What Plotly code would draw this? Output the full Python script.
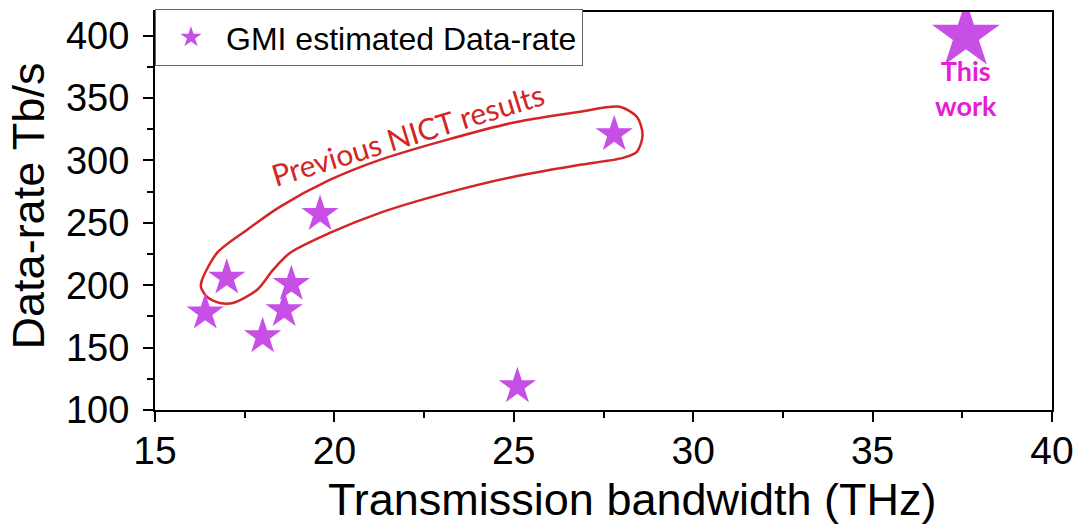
import plotly.graph_objects as go

# Data
bandwidth_thz = [16.4, 17.0, 18.0, 18.6, 18.8, 19.6, 25.1, 27.8]
datarate_tbps = [178, 206, 159, 180, 201, 257, 119, 321]
this_work_bw = [37.6]
this_work_rate = [400]

# Enclosure outline around "Previous NICT results" (data coordinates)
outline_x = [16.31, 16.73, 17.56, 18.48, 19.87, 21.27, 23.13, 24.97, 26.84, 27.95, 28.43, 28.59,
             28.43, 28.04, 26.84, 24.97, 23.13, 21.27, 19.87, 18.76, 18.29, 17.84, 17.17, 16.81,
             16.45, 16.28, 16.31]
outline_y = [204.2, 225.9, 244.3, 262.8, 284.4, 300.5, 316.5, 330.2, 339.0, 343.0, 335.0, 320.5,
             306.9, 302.1, 296.5, 286.8, 274.0, 258.0, 241.9, 225.9, 212.3, 196.2, 185.8, 185.8,
             190.6, 198.6, 204.2]

star_color = "#C84FE6"
red = "#D42424"
magenta = "#E41ED6"
font_main = "Liberation Sans, Arial, sans-serif"

fig = go.Figure()

fig.add_trace(go.Scatter(
    x=outline_x, y=outline_y, mode="lines",
    line=dict(color=red, width=2.5, shape="spline", smoothing=0.8),
    showlegend=False, hoverinfo="skip"))

fig.add_trace(go.Scatter(
    x=bandwidth_thz, y=datarate_tbps, mode="markers",
    name="GMI estimated Data-rate",
    marker=dict(symbol="star", size=28, color=star_color, line=dict(width=0))))

fig.add_trace(go.Scatter(
    x=this_work_bw, y=this_work_rate, mode="markers",
    marker=dict(symbol="star", size=51, color=star_color, line=dict(width=0)),
    showlegend=False))

fig.add_annotation(x=this_work_bw[0], y=this_work_rate[0], text="<b>This<br>work</b>",
                   showarrow=False, yshift=-52,
                   font=dict(family="Lato, sans-serif", size=27, color=magenta),
                   align="center")

fig.add_annotation(x=22.05, y=321, text="Previous NICT results", showarrow=False,
                   textangle=-17, font=dict(family="Lato, sans-serif", size=30, color=red))

# Axis titles
fig.add_annotation(xref="paper", yref="paper", x=0.532, y=-0.226, xanchor="center", yanchor="middle",
                   text="Transmission bandwidth (THz)", showarrow=False,
                   font=dict(family=font_main, size=45, color="black"))
fig.add_annotation(xref="paper", yref="paper", x=-0.140, y=0.5126, xanchor="center", yanchor="middle",
                   text="Data-rate Tb/s", showarrow=False, textangle=-90,
                   font=dict(family=font_main, size=45, color="black"))

fig.update_layout(
    width=1075, height=527,
    margin=dict(l=155, r=23, t=12, b=117, autoexpand=False),
    plot_bgcolor="white", paper_bgcolor="white",
    font=dict(family=font_main, color="black"),
    legend=dict(x=0, y=1.008, xanchor="left", yanchor="top",
                bordercolor="#666666", borderwidth=1, bgcolor="white",
                font=dict(size=32, family=font_main), itemsizing="trace",
                itemwidth=60, tracegroupgap=0),
)

fig.update_xaxes(range=[15, 40], dtick=5, tick0=15,
                 showline=True, linecolor="black", linewidth=2, mirror=True,
                 ticks="outside", ticklen=10, tickwidth=1.5, tickcolor="black",
                 minor=dict(ticks="outside", ticklen=6, dtick=2.5, tickcolor="black", tickwidth=1.5),
                 showgrid=False, zeroline=False,
                 tickfont=dict(size=39), ticklabelstandoff=-5)

fig.update_yaxes(range=[100, 419], dtick=50, tick0=100,
                 showline=True, linecolor="black", linewidth=2, mirror=True,
                 ticks="outside", ticklen=10, tickwidth=1.5, tickcolor="black",
                 minor=dict(ticks="outside", ticklen=6, dtick=25, tickcolor="black", tickwidth=1.5),
                 showgrid=False, zeroline=False,
                 tickfont=dict(size=38), ticklabelstandoff=6)

fig.write_html("out.html", config={"displayModeBar": False},
               post_script="document.body.style.margin='0';document.body.style.overflow='hidden';")
